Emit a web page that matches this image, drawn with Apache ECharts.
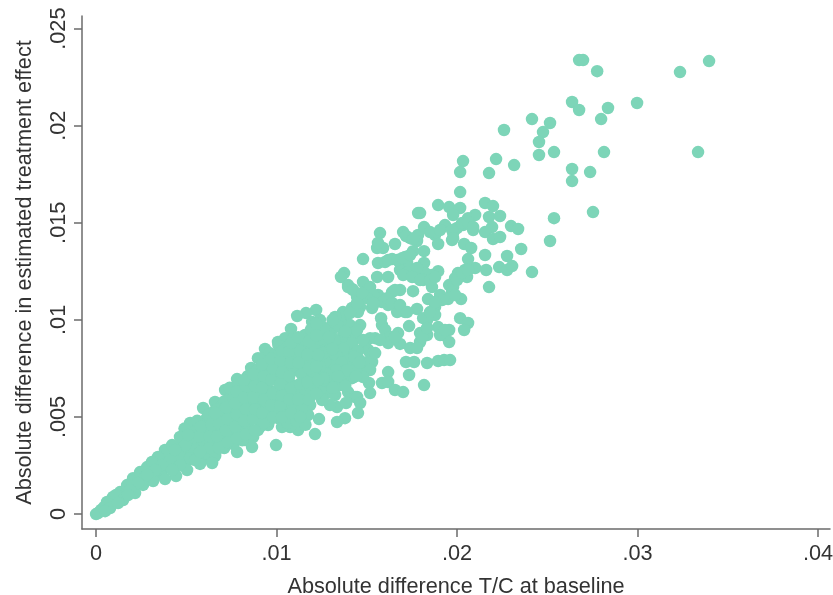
<html>
<head>
<meta charset="utf-8">
<script src="https://cdn.jsdelivr.net/npm/echarts@6/dist/echarts.min.js"></script>
<style>
html, body, #main { width: 100%; height: 100%; margin: 0; background: #fff; }
</style>
</head>
<body>
<div id="main"></div>
<script>
// [abs difference T/C at baseline, abs difference in estimated effect]
var tailPoints = [
[.02676,.02338],[.02698,.02338],[.02776,.02281],[.03235,.02276],[.03396,.02333],[.02637,.02122],[.02676,.02081],[.02836,.02091],
[.02798,.02034],[.02997,.02117],[.02415,.02034],[.02515,.02014],[.02476,.01967],[.0226,.01978],[.02454,.01916],[.02454,.01849],
[.02537,.01864],[.02814,.01864],[.03335,.01864],[.02216,.01828],[.02316,.01797],[.02177,.01756],[.02637,.01777],[.02637,.01715],
[.02737,.01761],[.02155,.01602],[.02199,.01586],[.02177,.0153],[.02238,.01535],[.02299,.01483],[.02338,.01468],[.02194,.01478],
[.02155,.01452],[.02199,.01416],[.02238,.01427],[.02537,.01524],[.02753,.01555],[.02515,.01406],[.02355,.01365],[.02155,.01334],
[.02277,.01329],[.02033,.01818],[.02017,.01761],[.02017,.01658]
];
var upperPoints = [
[.01784,.0155],[.01795,.0155],[.01895,.01591],[.01956,.01581],[.02017,.01576],[.01978,.0154],[.021,.0154],[.02061,.01524],
[.02089,.01463],[.02033,.01488],[.02,.01473],[.01933,.01488],[.01972,.01411],[.01978,.01447],[.02039,.01391],[.02078,.0137],
[.02061,.01313],[.021,.01267],[.02044,.01257],[.02005,.01241],[.01989,.01215],[.02177,.01169],[.02055,.01221],[.02161,.01257],
[.02233,.01272],[.02277,.01257],[.02305,.01277],[.02415,.01246],[.01573,.01447],[.01701,.01452],[.0174,.01421],[.01784,.01437],
[.01778,.01406],[.01817,.01478],[.01878,.01437],[.01895,.01391],[.01656,.01391],[.01557,.0137],[.0159,.0137],[.01479,.01313],
[.01562,.01293],[.01601,.01298],[.0164,.01313],[.01756,.01354],[.01817,.01354],[.01712,.01324],[.01684,.01293],[.01723,.01293],
[.01817,.01293],[.01684,.01257],[.01728,.01246],[.01895,.01251],[.01861,.01231],[.01823,.01241],[.01374,.01241],[.01357,.01221],
[.01557,.01221],[.01618,.01221],[.01767,.01221],[.01812,.01205],[.01861,.01169],[.01756,.01148],[.01956,.01179],[.01396,.01179],
[.01418,.01159],[.01479,.01195],[.01518,.01169],[.01479,.01138],[.01562,.01128],[.0164,.01143],[.01684,.01154],
[.01717,.01432],[.01756,.01416],[.0185,.01452],[.01906,.01463],[.01972,.01463],[.02028,.01499],[.02061,.01504],[.02089,.01478],
[.01978,.01421],[.01562,.01396],[.01618,.01308],[.01668,.01308],[.01695,.01318],[.0174,.01334],[.01778,.01267],[.01701,.01231],
[.01751,.01221],[.01795,.01205],[.0185,.01205],[.01878,.01221],[.01978,.01169],[.02,.01205],[.02028,.01241],[.02061,.01257]
];
var middlePoints = [
[.01839,.01107],[.01906,.01128],[.01972,.01143],[.02022,.01107],[.0195,.01107],[.01917,.01102],[.01878,.01066],[.01778,.01056],
[.01712,.0104],[.01668,.0104],[.01618,.01076],[.01584,.01092],[.01529,.01061],[.02017,.01009],[.02061,.00984],[.02039,.00948],
[.01878,.01025],[.01834,.00999],[.01895,.00963],[.01956,.00948],[.01922,.00922],[.01956,.00886],[.01579,.01009],[.01584,.00973],
[.01601,.00948],[.01734,.00968],[.01673,.00932],[.01629,.00912],[.01684,.00876],[.01618,.00881],[.01795,.00932],[.01834,.00922],
[.01795,.00886],[.0174,.00855],[.01778,.00855],[.01518,.00829],[.01529,.00783],[.01717,.00783],[.01762,.00783],[.01834,.00778],
[.01895,.00788],[.01928,.00793],[.01961,.00793],[.01734,.00716],[.01817,.00664],[.01618,.00731],[.01584,.00675],[.01618,.0068],
[.01656,.00639],[.01701,.00628],[.01512,.00675],[.01518,.00623],[.01396,.00628],[.01435,.00603],[.0128,.00623],
[.01656,.01154],[.01612,.01112],[.0164,.01087],[.01684,.01076],[.01535,.01128],[.01501,.01112],[.01446,.01118],[.01463,.01066],
[.01535,.01076],[.01723,.0104],[.01812,.01009],[.0185,.0104],[.01878,.01092],[.01989,.01128],[.01806,.00912],[.01834,.00958],
[.01656,.00912],[.01906,.00922],[.01933,.00948]
];
var clusterPoints = [
[.01418,.01061],[.01379,.01009],[.01451,.0104],[.01407,.00973],[.01352,.00989],[.01307,.00948],[.01463,.00973],[.01435,.00922],
[.01379,.00896],[.01324,.0087],[.01285,.00896],[.0149,.0087],[.01518,.00906],[.01407,.00845],[.01352,.00819],[.01296,.00819],
[.01451,.00803],[.01396,.00767],[.01341,.00752],[.01285,.00752],[.01474,.00731],[.01418,.007],[.01363,.0069],[.01307,.0068],
[.01252,.00731],[.01435,.00742],[.01474,.00783],[.01507,.00845],[.01269,.00664],[.01324,.00613],[.01241,.00639],[.01396,.01169],
[.01424,.01154],[.01368,.0104],[.01324,.01015],[.01307,.00973],[.01407,.01035],[.01446,.01087],[.01474,.01138],[.01535,.01087],
[.01535,.00829],[.01518,.00783],[.01424,.00706],[.01368,.00706],[.01446,.00603],[.01463,.00572],[.01451,.0052],[.01379,.00494],
[.01335,.00474],[.01235,.00489],[.01213,.00412],[.01335,.00551],[.01296,.00561],[.01313,.00623],[.0128,.00706],[.01352,.00664],
[.01385,.00572],[.0137,.0093],[.0134,.0086],[.0142,.0088],[.0139,.0080],[.0145,.0084],[.0131,.0078],[.0136,.0072],[.0141,.0074],
[.01446,.00948],[.01479,.00896],[.01546,.00906],[.01573,.00896],[.01546,.00829],[.01518,.00742],[.01479,.00706],
[.0134,.0097],[.0138,.0094],[.0129,.0093],[.0132,.009],[.0128,.0086],[.0137,.0085],[.0133,.0082],[.0143,.0081],[.0136,.0078],
[.0146,.0078],[.0133,.0074],[.0139,.0074],[.0128,.0072],[.0144,.0071],[.0134,.0071],[.0131,.0065],[.0138,.0066],[.0126,.0069]
];
var densePoints = [
[.01219,.01051],[.01163,.01035],[.01114,.0102],[.0108,.00953],[.01197,.00989],[.01008,.00886],[.00936,.0085],[.00897,.00803],
[.00859,.00752],[.00781,.00695],[.00715,.00639],[.00659,.00577],[.00593,.00546],[.00521,.00469],[.01047,.00906],[.01102,.00896],
[.01158,.00922],[.01213,.00937],[.01269,.00948],[.0113,.00855],[.01075,.00845],[.01019,.00834],[.00964,.00803],[.01186,.0087],
[.01241,.00886],[.0123,.00819],[.01174,.00819],[.01119,.00803],[.01064,.00783],[.01008,.00767],[.00953,.00752],[.00909,.00731],
[.00864,.0069],[.00825,.00664],[.00787,.00628],[.00742,.00597],[.00698,.00561],[.00648,.00525],[.00604,.00484],[.00565,.00443],
[.01269,.00783],[.01213,.00752],[.01158,.00752],[.01102,.00742],[.01047,.00716],[.00992,.007],[.00936,.0068],[.00897,.00639],
[.00853,.00613],[.00809,.00587],[.0077,.00546],[.0072,.00515],[.00676,.00484],[.00632,.00443],[.00593,.00407],[.00548,.00381],
[.01197,.007],[.01147,.0068],[.01086,.00664],[.0103,.00649],[.00975,.00628],[.00936,.00597],[.00897,.00561],[.00853,.00546],
[.00814,.0051],[.00765,.00484],[.0072,.00458],[.00676,.00417],[.00632,.00381],[.00587,.00345],[.00532,.0034],[.01252,.00587],
[.01186,.00561],[.0113,.00613],[.01075,.00597],[.01019,.00577],[.00975,.00546],[.00936,.0051],[.00881,.00494],[.00825,.00458],
[.00781,.00422],[.00731,.00391],[.00687,.0036],[.00643,.00319],[.00604,.00288],[.01174,.0051],[.01119,.00536],[.01064,.0051],
[.01008,.00494],[.00953,.00458],[.00897,.00433],[.01119,.00433],[.01075,.00448],[.0103,.00448],[.0087,.00397],[.00825,.00381],
[.00781,.00319],[.00864,.00345],[.00997,.00355],[.01158,.00587]
];
var fillPoints = [
[.0055,.0036],[.0054,.0042],[.0056,.0048],[.0061,.0031],[.0059,.0037],[.0061,.0044],[.0062,.0051],[.0066,.003],[.0064,.0037],
[.0066,.0043],[.0065,.0049],[.0067,.0054],[.0071,.0034],[.0069,.004],[.0071,.0046],[.0069,.0052],[.0071,.0058],[.0076,.0036],
[.0074,.0042],[.0076,.0048],[.0074,.0054],[.0076,.006],[.0074,.0065],[.0081,.0038],[.0079,.0044],[.0081,.005],[.0079,.0056],
[.0081,.0062],[.0079,.0067],[.0086,.0041],[.0084,.0046],[.0086,.0052],[.0084,.0058],[.0086,.0064],[.0084,.0071],[.0091,.0045],
[.0089,.0051],[.0091,.0056],[.0089,.0062],[.0091,.0068],[.0089,.0074],[.0091,.008],[.0096,.0048],[.0094,.0054],[.0096,.006],
[.0094,.0066],[.0096,.0072],[.0094,.0078],[.0096,.0083],[.0101,.0052],[.0099,.0058],[.0101,.0064],[.0099,.007],[.0101,.0076],
[.0099,.0082],[.0101,.0087],[.0106,.0047],[.0104,.0055],[.0106,.0062],[.0104,.0068],[.0106,.0074],[.0104,.008],[.0106,.0086],
[.0111,.0048],[.0109,.0056],[.0111,.0063],[.0109,.0076],[.0111,.0082],[.0109,.009],[.0116,.0046],[.0114,.0054],[.0116,.0064],
[.0114,.0072],[.0116,.0078],[.0114,.0086],[.0116,.0092],[.0119,.0065],[.0121,.0072],[.0119,.0079],[.0121,.0085],[.0119,.0095],
[.0126,.007],[.0124,.0076],[.0126,.0083],[.0124,.009],[.0126,.0096],[.0124,.0100],[.0131,.0085],[.0129,.0091],[.0131,.01],
[.0046,.0025],[.0045,.003],[.0051,.0028],[.0049,.0033],[.0051,.0039],[.0049,.0044],[.0036,.0021],[.0034,.0026],[.0031,.0018],
[.0029,.0023],[.0026,.0015],[.0024,.0019],[.0021,.0012],[.0019,.0015],[.0016,.0009],[.0014,.001],[.0041,.0024],[.0039,.0029]
];
var gapPoints = [
[.0043,.0033],[.0047,.0036],[.0053,.0033],[.0058,.0034],[.0057,.004],[.0058,.0045],[.0063,.0034],[.0063,.004],[.0064,.0046],
[.0068,.0034],[.0067,.004],[.0068,.0047],[.0066,.0052],[.0073,.0037],[.0072,.0043],[.0073,.0049],[.0072,.0055],[.0078,.0039],
[.0077,.0045],[.0078,.0051],[.0077,.0057],[.0078,.0063],[.0083,.0041],[.0082,.0048],[.0083,.0054],[.0082,.006],[.0083,.0066],
[.0082,.0069],[.0088,.0043],[.0087,.0049],[.0088,.0054],[.0087,.006],[.0088,.0066],[.0087,.0072],[.0093,.0047],[.0092,.0052],
[.0093,.0059],[.0092,.0065],[.0093,.0071],[.0092,.0077],[.0098,.005],[.0097,.0056],[.0098,.0062],[.0097,.0069],[.0098,.0075],
[.0097,.008],[.0103,.005],[.0102,.0056],[.0103,.0061],[.0102,.0067],[.0103,.0073],[.0102,.0079],[.0103,.0084],[.0108,.0052],
[.0107,.0059],[.0108,.0065],[.0107,.0071],[.0108,.0078],[.0107,.0084],[.0108,.0088],[.0113,.005],[.0112,.0059],[.0113,.0067],
[.0112,.0078],[.0113,.0084],[.0112,.0091],[.0118,.0059],[.0117,.0068],[.0118,.0075],[.0117,.0082],[.0118,.0089],[.0122,.0062],
[.0123,.0069],[.0122,.0076],[.0123,.0082],[.0122,.0092],[.0122,.0098]
];
var originPoints = [
[.00465,.00397],[.00382,.0033],[.00283,.00242],[.00205,.00185],[.00133,.00113],[.00061,.00062],[0,0],[.00421,.00355],
[.00343,.00294],[.0031,.00268],[.00244,.00216],[.00172,.00149],[.00094,.00088],[.00028,.00021],[.00011,.00005],[.00044,.00036],
[.00078,.00062],[.00111,.00098],[.00643,.00263],[.00576,.00258],[.00504,.00227],[.00443,.00196],[.00382,.0018],[.00316,.0017],
[.00216,.00108],[.0015,.00072],[.00078,.00031],[.00548,.0033],[.00493,.00355],[.00454,.00304],[.0041,.00278],[.00366,.00252],
[.00327,.00227],[.00271,.00191],[.00233,.0016],[.00188,.00124],[.00521,.00288],[.00465,.00252],[.00421,.00227],[.00548,.00278],
[.00576,.00319],[.0051,.00407],[.00438,.0033],[.00283,.00201],[.00177,.00098],[.00122,.00057],[.0005,.00015]
];
var xTicks = [0, .01, .02, .03, .04];
var yTicks = [0, .005, .01, .015, .02, .025];
var allPoints = tailPoints.concat(upperPoints, middlePoints, clusterPoints, densePoints, fillPoints, gapPoints, originPoints);

function tickText(v) {
    return String(v).replace(/^0\./, '.');
}
var lineStyle = { color: '#6b6b6b', width: 1.5 };
var textFont = 'Liberation Sans';

var chart = echarts.init(document.getElementById('main'));
chart.setOption({
    animation: false,
    backgroundColor: '#fff',
    grid: { left: 82, right: 3, top: 16, bottom: 66, outerBoundsMode: 'none' },
    xAxis: {
        type: 'value', min: -0.00078, max: 0.04066, splitLine: { show: false },
        name: 'Absolute difference T/C at baseline', nameLocation: 'middle', nameGap: 47,
        nameTextStyle: { fontFamily: textFont, fontSize: 21.7, color: '#333' },
        axisLine: { show: true, onZero: false, lineStyle: lineStyle },
        axisTick: { show: true, length: 8, customValues: xTicks, lineStyle: lineStyle },
        axisLabel: { customValues: xTicks, formatter: tickText, margin: 14, fontFamily: textFont, fontSize: 21.7, color: '#333', hideOverlap: false }
    },
    yAxis: {
        type: 'value', min: -0.00077, max: 0.02565, splitLine: { show: false },
        name: 'Absolute difference in estimated treatment effect', nameLocation: 'middle', nameGap: 34,
        nameTextStyle: { fontFamily: textFont, fontSize: 21.7, color: '#333', padding: [0, 0, 12, 0] },
        axisLine: { show: true, onZero: false, lineStyle: lineStyle },
        axisTick: { show: true, length: 8, customValues: yTicks, lineStyle: lineStyle },
        axisLabel: { customValues: yTicks, formatter: tickText, rotate: 90, margin: 12, fontFamily: textFont, fontSize: 21.7, color: '#333', hideOverlap: false }
    },
    series: [{
        type: 'scatter',
        data: allPoints,
        symbolSize: 12.5,
        itemStyle: { color: '#7dd5b8', opacity: 1 },
        clip: false
    }]
});
</script>
</body>
</html>
